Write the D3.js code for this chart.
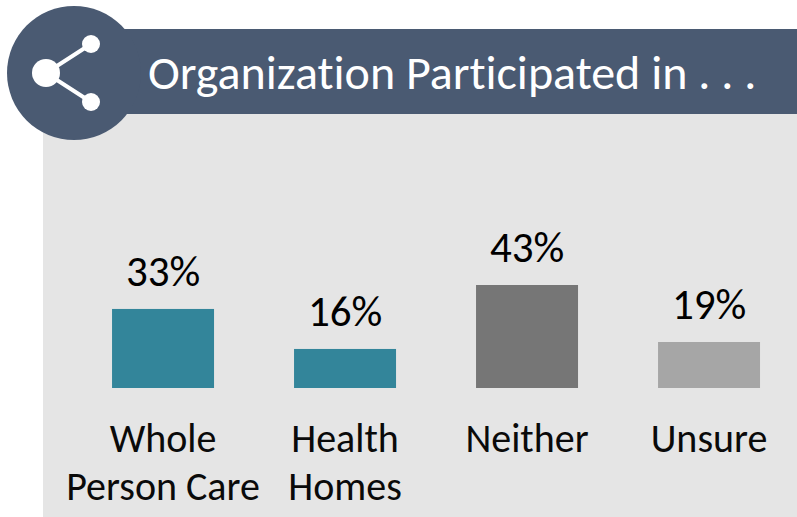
<!DOCTYPE html>
<html><head><meta charset="utf-8">
<script src="https://cdn.jsdelivr.net/npm/d3@7/dist/d3.min.js"></script>
<style>html,body{margin:0;padding:0;background:#fff}svg{display:block}text{font-variant-ligatures:none}</style>
</head><body><svg id="c" width="797" height="517"></svg>
<script>
const title = "Organization Participated in . . .";
const categories = ["Whole Person Care","Health Homes","Neither","Unsure"];
const labelLines = [["Whole","Person Care"],["Health","Homes"],["Neither"],["Unsure"]];
const values = [33,16.3,43,19.2];
const colors = ["#33859a","#33859a","#767676","#a6a6a6"];
const font = "Carlito, 'Open Sans', 'Noto Sans', sans-serif";
const svg = d3.select("#c");
svg.append("rect").attr("x",43).attr("y",100).attr("width",754).attr("height",417).attr("fill","#e5e5e5");
svg.append("rect").attr("x",70).attr("y",29).attr("width",727).attr("height",85).attr("fill","#4a5a72");
svg.append("circle").attr("cx",74).attr("cy",73).attr("r",67).attr("fill","#4a5a72");
svg.append("text").attr("x",148).attr("y",89).attr("font-family",font).attr("font-size",48).attr("fill","#fff").text(title);
const x = d3.scaleBand().domain(categories).range([72,800]).paddingInner(0.44).paddingOuter(0.22);
const y = d3.scaleLinear().domain([0,43]).range([388,285]);
svg.selectAll("rect.bar").data(values).join("rect").attr("class","bar")
 .attr("x",(d,i)=>x(categories[i])).attr("width",102).attr("y",d=>y(d)).attr("height",d=>388-y(d))
 .attr("fill",(d,i)=>colors[i]);
svg.selectAll("text.v").data(values).join("text").attr("class","v")
 .attr("x",(d,i)=>x(categories[i])+51).attr("y",d=>y(d)-23).attr("text-anchor","middle")
 .attr("font-family",font).attr("font-size",43).attr("fill","#000").text(d=>d3.format(".0f")(d)+"%");
labelLines.forEach((ls,i)=>ls.forEach((l,j)=>svg.append("text")
 .attr("x",x(categories[i])+51).attr("y",452+j*48).attr("text-anchor","middle")
 .attr("font-family",font).attr("font-size",40).attr("fill","#0a0a0a").text(l)));
const pts=[[46,73],[91,44],[91,102]];
const g=svg.append("g");
g.append("path").attr("d",d3.line()([pts[1],pts[0],pts[2]])).attr("fill","none").attr("stroke","#fff").attr("stroke-width",4);
g.selectAll("circle").data(pts).join("circle").attr("cx",d=>d[0]).attr("cy",d=>d[1]).attr("r",(d,i)=>i?9:14).attr("fill","#fff");
</script></body></html>
